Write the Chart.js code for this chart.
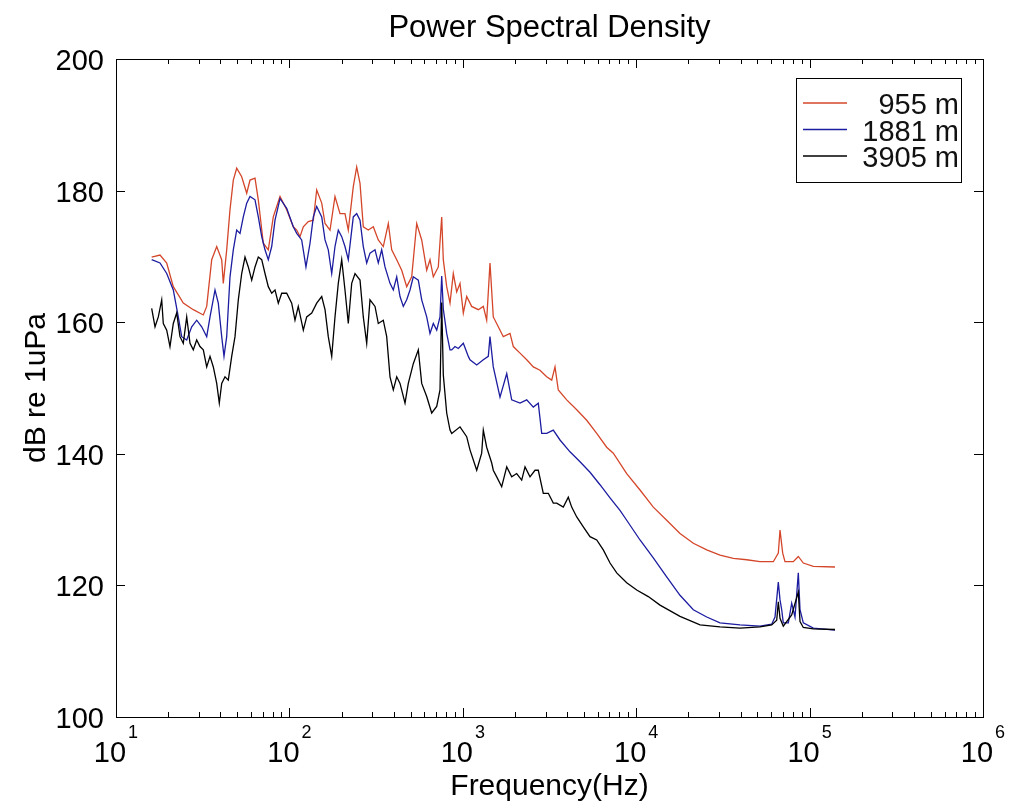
<!DOCTYPE html>
<html>
<head>
<meta charset="utf-8">
<title>Power Spectral Density</title>
<script src="https://cdn.jsdelivr.net/npm/chart.js@4.4.1/dist/chart.umd.min.js"></script>
<style>
  html, body { margin: 0; padding: 0; background: #fff; }
  canvas { display: block; }
</style>
</head>
<body>
<canvas id="psdChart" width="1012" height="808"></canvas>
<script>
// [frecuencia Hz, dB re 1uPa]
const psd955 = [
  [16.06,169.9],[17.94,170.2],[19.61,169.0],[21.40,165.4],[24.44,162.9],[27.91,161.9],[31.88,161.1],[33.35,162.4],
  [35.64,169.5],[38.09,171.5],[40.70,169.5],[41.57,165.9],[43.49,171.0],[45.44,177.1],[47.48,181.6],[49.67,183.4],
  [53.08,182.1],[56.73,179.6],[59.27,181.6],[63.34,181.9],[66.17,178.6],[70.71,172.0],[75.56,171.0],[80.74,176.0],
  [88.27,179.1],[96.47,177.1],[105.3,174.5],[110.2,174.0],[115.1,173.0],[120.3,174.5],[128.5,175.3],[137.4,175.5],
  [143.7,180.1],[153.6,178.1],[160.5,175.0],[171.5,174.0],[183.2,179.1],[195.8,176.5],[209.2,176.5],[218.6,174.0],
  [233.6,180.6],[244.4,183.6],[255.4,181.1],[266.8,174.5],[285.1,174.0],[304.7,174.5],[325.6,172.5],[347.9,171.5],
  [371.9,175.0],[389.0,171.0],[415.8,169.5],[444.3,167.9],[474.8,165.4],[507.4,166.9],[542.2,175.0],[579.4,172.5],
  [619.2,167.9],[646.9,169.5],[676.0,166.9],[722.4,168.4],[755.7,176.0],[771.9,169.5],[807.5,165.4],[843.8,162.9],
  [881.5,167.4],[922.2,164.6],[963.6,165.9],[1007,161.4],[1053,163.9],[1125,162.4],[1229,161.9],[1313,162.4],
  [1373,160.3],[1435,169.0],[1499,160.8],[1602,159.3],[1712,157.8],[1872,158.3],[1956,156.3],[2138,155.3],
  [2337,154.3],[2551,153.2],[2787,152.7],[3047,151.7],[3256,151.2],[3402,153.2],[3554,149.7],[3974,148.2],
  [4540,146.7],[5183,145.1],[5920,143.1],[6757,141.0],[7379,140.1],[8815,137.0],[10520,134.5],[12550,131.9],
  [14990,129.9],[17890,127.9],[21350,126.4],[25510,125.4],[30430,124.6],[36310,124.1],[43370,123.9],[51760,123.6],
  [61760,123.6],[66000,124.9],[67510,128.4],[69970,124.9],[72130,123.6],[80530,123.6],[86080,124.4],[91980,123.4],
  [105100,122.9],[140100,122.8]
];
const psd1881 = [
  [16.06,169.5],[17.94,169.0],[19.61,167.4],[21.40,164.9],[22.87,160.8],[23.92,157.8],[25.57,157.3],[27.33,159.3],
  [29.20,160.3],[31.21,159.3],[33.35,157.8],[34.85,160.8],[37.24,164.9],[38.90,162.9],[40.70,157.8],[41.96,154.8],
  [43.49,157.8],[45.44,166.9],[47.48,171.0],[49.67,174.0],[51.90,173.5],[54.22,176.0],[56.73,178.1],[59.27,179.1],
  [63.34,178.6],[66.17,176.0],[69.23,173.0],[72.33,171.0],[75.56,169.5],[79.05,171.5],[82.60,175.5],[88.27,178.8],
  [96.47,177.3],[105.3,174.5],[110.2,173.5],[117.7,172.5],[124.6,168.4],[131.5,172.0],[137.4,176.0],[143.7,177.6],
  [153.6,176.0],[160.5,172.5],[167.6,171.0],[175.4,167.4],[183.2,171.5],[191.4,174.0],[200.3,173.0],[209.2,171.5],
  [218.6,169.5],[233.6,176.0],[244.4,176.5],[255.4,175.5],[266.8,171.5],[279.1,169.0],[291.6,170.5],[311.7,171.0],
  [325.6,169.0],[340.6,171.0],[355.9,168.4],[380.4,165.9],[397.4,164.9],[415.8,166.9],[434.4,163.9],[453.9,162.4],
  [474.8,163.4],[496.1,164.9],[518.2,166.9],[553.9,166.4],[579.4,163.4],[619.2,160.8],[646.9,158.3],[676.0,159.8],
  [707.2,158.8],[738.8,160.8],[755.7,167.0],[771.9,162.0],[807.5,158.3],[843.8,155.8],[863.0,155.8],[901.6,156.3],
  [941.9,156.0],[1007,156.8],[1076,154.8],[1100,154.3],[1203,153.5],[1313,154.3],[1403,154.8],[1435,157.8],
  [1499,153.2],[1639,148.6],[1792,152.2],[1914,148.2],[2138,147.7],[2337,148.2],[2551,147.1],[2725,147.7],
  [2851,143.1],[3047,143.1],[3326,143.6],[3636,142.1],[4152,140.3],[4743,138.8],[5415,137.2],[6183,135.3],
  [7064,133.3],[8064,131.4],[8815,129.9],[10520,126.9],[12550,124.2],[14990,121.3],[17890,118.5],[21350,116.3],
  [25510,115.2],[30430,114.3],[39680,114.0],[51760,113.8],[60450,114.1],[63170,115.2],[66000,120.5],[67510,117.8],
  [69050,116.3],[70520,114.3],[75390,114.3],[78830,117.3],[82370,115.2],[86080,121.9],[88050,116.3],[91980,114.3],
  [105100,113.5],[140100,113.2]
];
const psd3905 = [
  [16.06,162.1],[16.79,159.3],[17.54,160.8],[18.35,163.4],[18.74,159.8],[19.61,158.8],[20.48,156.3],[21.40,159.8],
  [22.39,161.4],[23.39,157.8],[24.44,156.8],[25.57,160.8],[26.72,156.8],[27.91,155.8],[29.20,157.3],[30.51,156.3],
  [31.88,155.8],[33.35,153.2],[34.85,154.8],[36.41,153.2],[38.09,150.7],[39.42,147.7],[40.70,150.7],[42.52,151.7],
  [44.42,151.2],[46.48,154.8],[48.56,157.8],[50.74,163.4],[53.08,167.4],[55.46,169.9],[57.94,168.4],[60.63,166.4],
  [63.34,168.4],[66.17,169.9],[69.23,169.5],[72.33,167.4],[75.56,165.4],[79.05,164.4],[82.60,164.9],[86.30,162.9],
  [90.29,164.4],[96.47,164.4],[103.1,162.9],[107.7,160.3],[112.5,162.4],[120.3,158.8],[125.8,160.8],[134.5,161.4],
  [143.7,162.9],[153.6,163.9],[160.5,161.9],[167.6,157.8],[175.4,154.8],[183.2,160.8],[191.4,165.9],[200.3,169.5],
  [209.2,164.9],[218.6,159.8],[228.7,165.9],[239.0,167.4],[255.4,166.4],[266.8,160.8],[279.1,156.8],[291.6,163.4],
  [311.7,162.4],[325.6,159.8],[347.9,160.3],[364.0,157.8],[380.4,151.7],[397.4,149.7],[415.8,151.7],[434.4,150.7],
  [464.2,147.7],[485.0,150.7],[518.2,153.7],[553.9,155.8],[579.4,150.7],[619.2,148.7],[661.7,146.2],[707.2,147.2],
  [738.8,149.7],[755.7,163.0],[771.9,152.0],[807.5,146.2],[843.8,143.6],[863.0,143.1],[963.6,144.1],[1053,142.6],
  [1100,140.6],[1203,137.5],[1285,140.1],[1313,143.6],[1373,141.0],[1468,138.6],[1499,137.5],[1569,136.5],
  [1676,135.0],[1792,138.0],[1914,136.5],[2045,137.0],[2186,136.0],[2285,138.0],[2441,136.5],[2609,137.5],
  [2725,137.5],[2912,134.0],[3113,134.0],[3326,132.5],[3479,132.5],[3798,131.9],[4059,133.4],[4246,131.9],
  [4540,130.4],[4955,128.9],[5415,127.4],[5920,126.9],[6460,125.4],[7064,123.4],[7721,121.9],[8815,120.4],
  [10070,119.3],[11740,118.3],[13720,117.0],[17890,115.3],[23340,114.0],[30430,113.7],[39680,113.5],[51760,113.7],
  [60450,114.0],[64610,114.7],[66000,117.5],[67510,115.0],[70520,113.8],[78830,115.5],[86080,119.0],[88050,114.5],
  [91980,113.6],[105100,113.4],[140100,113.3]
];

const etiquetas = ['955 m', '1881 m', '3905 m'];
const colores = ['#d4462a', '#1c1ca0', '#000000'];
const yTicks = [100, 120, 140, 160, 180, 200];
const xExponentes = [1, 2, 3, 4, 5, 6];

const FONT = '"Liberation Sans", Arial, sans-serif';

// ejes tipo MATLAB: caja, marcas hacia dentro, etiquetas 10^n
const ejesMatlab = {
  id: 'ejesMatlab',
  afterDraw(chart) {
    const ctx = chart.ctx;
    const a = chart.chartArea;
    const xs = chart.scales.x, ys = chart.scales.y;
    ctx.save();
    ctx.strokeStyle = '#000';
    ctx.fillStyle = '#000';
    ctx.lineWidth = 1;

    ctx.strokeRect(Math.round(a.left) + 0.5, Math.round(a.top) + 0.5,
                   Math.round(a.right - a.left), Math.round(a.bottom - a.top));

    ctx.beginPath();
    // marcas menores y mayores en x (log)
    for (let e = 1; e < 6; e++) {
      for (let k = 1; k <= 9; k++) {
        const v = k * Math.pow(10, e);
        const px = Math.round(xs.getPixelForValue(v)) + 0.5;
        const len = (k === 1) ? 9 : 5;
        ctx.moveTo(px, a.bottom); ctx.lineTo(px, a.bottom - len);
        ctx.moveTo(px, a.top); ctx.lineTo(px, a.top + len);
      }
    }
    yTicks.forEach(t => {
      const py = Math.round(ys.getPixelForValue(t)) + 0.5;
      ctx.moveTo(a.left, py); ctx.lineTo(a.left + 9, py);
      ctx.moveTo(a.right, py); ctx.lineTo(a.right - 9, py);
    });
    ctx.stroke();

    // etiquetas y
    ctx.font = '29px ' + FONT;
    ctx.textAlign = 'right';
    ctx.textBaseline = 'alphabetic';
    yTicks.forEach(t => {
      ctx.fillText(String(t), a.left - 12, ys.getPixelForValue(t) + 11);
    });

    // etiquetas x: 10 con exponente
    xExponentes.forEach(e => {
      const px = xs.getPixelForValue(Math.pow(10, e));
      ctx.font = '29px ' + FONT;
      const w1 = ctx.measureText('10').width;
      ctx.font = '18px ' + FONT;
      const w2 = ctx.measureText(String(e)).width;
      const x0 = px - (w1 + 2 + w2) / 2;
      ctx.textAlign = 'left';
      ctx.font = '29px ' + FONT;
      ctx.fillText('10', x0, a.bottom + 45);
      ctx.font = '18px ' + FONT;
      ctx.fillText(String(e), x0 + w1 + 2, a.bottom + 21);
    });

    // titulos
    ctx.textAlign = 'center';
    ctx.font = '31px ' + FONT;
    ctx.fillText('Power Spectral Density', (a.left + a.right) / 2, 37);
    ctx.font = '30px ' + FONT;
    ctx.fillText('Frequency(Hz)', (a.left + a.right) / 2, 795);
    ctx.save();
    ctx.translate(45, (a.top + a.bottom) / 2);
    ctx.rotate(-Math.PI / 2);
    ctx.fillText('dB re 1uPa', 0, 0);
    ctx.restore();

    // leyenda
    const lx = 796, ly = 78, lw = 165, lh = 104;
    ctx.fillStyle = '#fff';
    ctx.fillRect(lx, ly, lw, lh);
    ctx.strokeStyle = '#000';
    ctx.strokeRect(lx + 0.5, ly + 0.5, lw, lh);
    ctx.font = '29px ' + FONT;
    ctx.textAlign = 'right';
    etiquetas.forEach((txt, i) => {
      const yy = 103 + i * 26.5;
      ctx.strokeStyle = colores[i];
      ctx.lineWidth = 1.3;
      ctx.beginPath();
      ctx.moveTo(803, yy); ctx.lineTo(847, yy);
      ctx.stroke();
      ctx.fillStyle = '#111';
      ctx.fillText(txt, 959, yy + 11);
    });
    ctx.restore();
  }
};

const aPuntos = arr => arr.map(p => ({ x: p[0], y: p[1] }));

new Chart(document.getElementById('psdChart').getContext('2d'), {
  type: 'line',
  data: {
    datasets: [
      { label: etiquetas[0], data: aPuntos(psd955), borderColor: colores[0], order: 3 },
      { label: etiquetas[1], data: aPuntos(psd1881), borderColor: colores[1], order: 2 },
      { label: etiquetas[2], data: aPuntos(psd3905), borderColor: colores[2], order: 1 }
    ]
  },
  options: {
    responsive: false,
    animation: false,
    devicePixelRatio: 1,
    layout: { padding: { left: 116, top: 59, right: 29, bottom: 91 } },
    elements: {
      line: { borderWidth: 1.3, tension: 0, fill: false },
      point: { radius: 0, hoverRadius: 0 }
    },
    plugins: {
      legend: { display: false },
      title: { display: false },
      tooltip: { enabled: false }
    },
    scales: {
      x: {
        type: 'logarithmic', min: 10, max: 1e6,
        ticks: { display: false },
        grid: { display: false, drawTicks: false },
        border: { display: false }
      },
      y: {
        type: 'linear', min: 100, max: 200,
        ticks: { display: false },
        grid: { display: false, drawTicks: false },
        border: { display: false }
      }
    }
  },
  plugins: [ejesMatlab]
});
</script>
</body>
</html>
